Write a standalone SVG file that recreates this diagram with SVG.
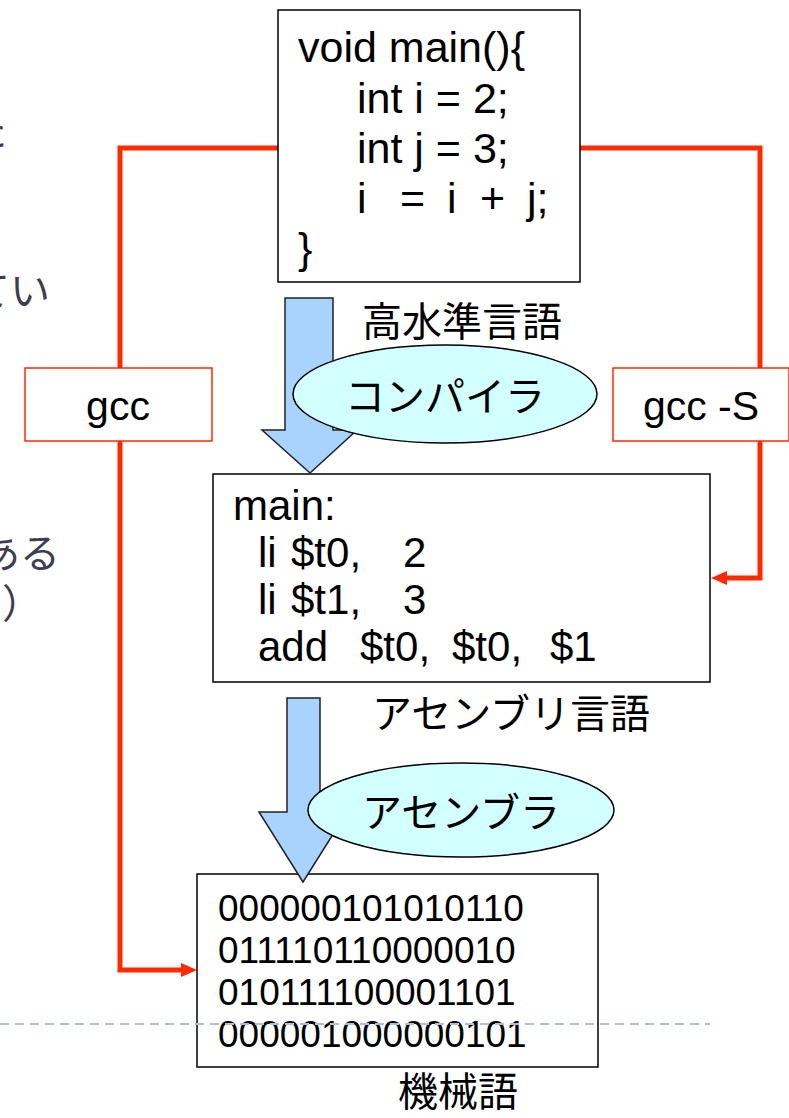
<svg xmlns="http://www.w3.org/2000/svg" width="789" height="1118" viewBox="0 0 789 1118">
<style>
.box{fill:#fff;stroke:#000;stroke-width:1.5}
.lbl{fill:#fff;stroke:#ff2a00;stroke-width:1.5}
.code{font-family:"Liberation Sans",Arial,sans-serif;font-size:42px;fill:#000}
.top{font-size:43px}
.bin{font-family:"Liberation Sans",Arial,sans-serif;font-size:37px;fill:#000}
.gcc{font-family:"Liberation Sans",Arial,sans-serif;font-size:41px;fill:#000;text-anchor:middle}
.jp{font-family:"Liberation Sans","Noto Sans CJK JP",sans-serif;font-size:40px;fill:#000}
.frag{font-family:"Noto Sans CJK JP",sans-serif;font-size:40px;fill:#3d3d4f}
.red{fill:none;stroke:#ff2a00;stroke-width:5}
.blue{fill:#a8d3fd;stroke:#222;stroke-width:1.5}
.ell{fill:#d2ffff;stroke:#000;stroke-width:1.5}
</style>
<defs>
<marker id="ah" markerUnits="userSpaceOnUse" markerWidth="16" markerHeight="16" refX="6" refY="7" orient="auto">
<path d="M0,0 L16,7 L0,14 z" fill="#ff2a00"/>
</marker>
</defs>
<rect width="789" height="1118" fill="#fff"/>
<g id="fragments">
<text class="frag" x="7" y="146" text-anchor="end">た</text>
<text class="frag" x="50" y="305" text-anchor="end">てい</text>
<text class="frag" x="60" y="568" text-anchor="end">ある</text>
<text class="frag" x="2" y="618">）</text>
</g>
<g id="connectors">
<path class="red" d="M278,148 H120 V970 H187" marker-end="url(#ah)"/>
<path class="red" d="M580,148 H760 V578 H721" marker-end="url(#ah)"/>
</g>
<g id="source">
<rect class="box" x="278" y="10" width="302" height="272"/>
<text class="code top" x="298" y="62">void main(){</text>
<text class="code top" x="357" y="113">int i = 2;</text>
<text class="code top" x="357" y="163">int j = 3;</text>
<text class="code top" y="213"><tspan x="357">i</tspan><tspan x="400">=</tspan><tspan x="447">i</tspan><tspan x="480">+</tspan><tspan x="527">j;</tspan></text>
<text class="code top" x="298" y="263">}</text>
</g>
<g id="gcc">
<rect class="lbl" x="25" y="368" width="187" height="73"/>
<text class="gcc" x="118" y="420">gcc</text>
</g>
<g id="gcc-S">
<rect class="lbl" x="613" y="368" width="176" height="73"/>
<text class="gcc" x="701" y="420">gcc -S</text>
</g>
<g id="label-high">
<text class="jp" x="362" y="336" font-size="42">高水準言語</text>
</g>
<g id="assembly">
<rect class="box" x="213" y="474" width="497" height="208"/>
<text class="code" x="233" y="520">main:</text>
<text class="code" y="567"><tspan x="258">li</tspan><tspan x="291">$t0,</tspan><tspan x="403">2</tspan></text>
<text class="code" y="614"><tspan x="258">li</tspan><tspan x="291">$t1,</tspan><tspan x="403">3</tspan></text>
<text class="code" y="661"><tspan x="258">add</tspan><tspan x="360">$t0,</tspan><tspan x="452">$t0,</tspan><tspan x="550">$1</tspan></text>
</g>
<g id="label-asm">
<text class="jp" x="372" y="728" font-size="38">アセンブリ言語</text>
</g>
<g id="machine">
<rect class="box" x="197" y="874" width="401" height="193"/>
<text class="bin" x="218" y="921">000000101010110</text>
<text class="bin" x="218" y="963">011110110000010</text>
<text class="bin" x="218" y="1005">010111100001101</text>
<text class="bin" x="218" y="1047">000001000000101</text>
</g>
<g id="label-machine">
<text class="jp" x="398" y="1106">機械語</text>
</g>
<g id="arrow-compile">
<path class="blue" d="M285,298 H333 V430 H357 L310,473 L262,430 H285 Z"/>
</g>
<g id="arrow-assemble">
<path class="blue" d="M287,698 H320 V812 H347 L303,882 L259,812 H287 Z"/>
</g>
<g id="compiler">
<ellipse class="ell" cx="445" cy="394" rx="152" ry="49"/>
<text class="jp" x="445" y="411" text-anchor="middle" font-size="44">コンパイラ</text>
</g>
<g id="assembler">
<ellipse class="ell" cx="461" cy="810" rx="153" ry="47"/>
<text class="jp" x="461" y="827" text-anchor="middle" font-size="44">アセンブラ</text>
</g>
<line x1="0" y1="1024" x2="710" y2="1024" stroke="#a9c1d9" stroke-width="2" stroke-dasharray="9,6"/>
</svg>
